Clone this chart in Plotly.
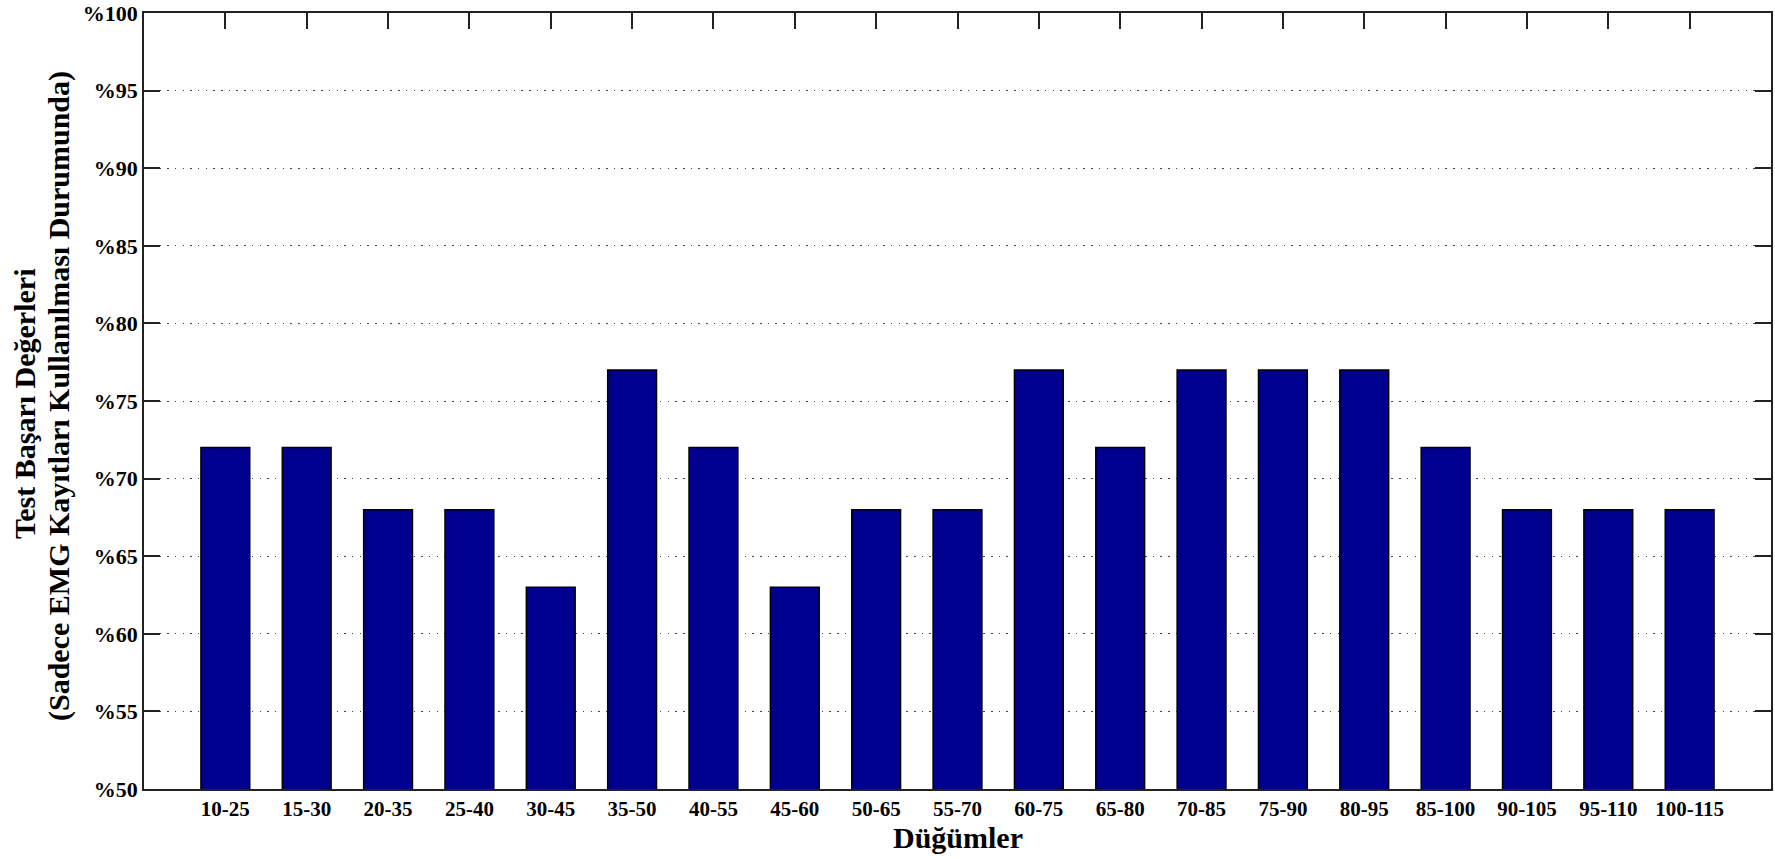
import plotly.graph_objects as go

# Node ranges on the x axis and the test success (%) for each
node_ranges = ["10-25", "15-30", "20-35", "25-40", "30-45", "35-50", "40-55",
               "45-60", "50-65", "55-70", "60-75", "65-80", "70-85", "75-90",
               "80-95", "85-100", "90-105", "95-110", "100-115"]
success = [72, 72, 68, 68, 63, 77, 72, 63, 68, 68, 77, 72, 77, 77, 77, 72, 68, 68, 68]

y_ticks = [50, 55, 60, 65, 70, 75, 80, 85, 90, 95, 100]
y_ticktext = ["%" + str(v) for v in y_ticks]

positions = list(range(1, len(node_ranges) + 1))

FONT = "Liberation Serif, Times New Roman, serif"

fig = go.Figure(
    go.Bar(
        x=positions,
        y=success,
        width=0.6,
        marker=dict(color="#00008F", line=dict(color="#000000", width=1.5)),
        hoverinfo="x+y",
    )
)

axis_common = dict(
    showline=True,
    linecolor="#222222",
    linewidth=1.5,
    mirror="ticks",
    ticks="inside",
    ticklen=16,
    tickwidth=1.5,
    tickcolor="#222222",
    zeroline=False,
    ticklabeloverflow="allow",
    automargin=False,
)

fig.update_layout(
    width=1775,
    height=859,
    margin=dict(l=144, r=4, t=13, b=70),
    paper_bgcolor="white",
    plot_bgcolor="white",
    showlegend=False,
    xaxis=dict(
        range=[0, 20],
        tickvals=positions,
        ticktext=node_ranges,
        showgrid=False,
        layer="below traces",
        tickfont=dict(family=FONT, size=21, color="#000000", weight="bold"),
        **axis_common,
    ),
    yaxis=dict(
        range=[50, 100],
        tickvals=y_ticks,
        ticktext=y_ticktext,
        showgrid=True,
        gridcolor="#444444",
        gridwidth=1,
        griddash="1.5px,6.2px",
        tickfont=dict(family=FONT, size=22, color="#000000", weight="bold"),
        **axis_common,
    ),
    annotations=[
        dict(
            text="Düğümler",
            xref="paper", yref="paper",
            x=0.5, y=0, yshift=-48,
            xanchor="center", yanchor="middle",
            showarrow=False,
            font=dict(family=FONT, size=30, color="#000000", weight="bold"),
        ),
        dict(
            text="Test Başarı Değerleri",
            xref="paper", yref="paper",
            x=0, xshift=-120, y=0.5, yshift=-3,
            xanchor="center", yanchor="middle",
            textangle=-90,
            showarrow=False,
            font=dict(family=FONT, size=30, color="#000000", weight="bold"),
        ),
        dict(
            text="(Sadece EMG Kayıtları Kullanılması Durumunda)",
            xref="paper", yref="paper",
            x=0, xshift=-85, y=0.5, yshift=5,
            xanchor="center", yanchor="middle",
            textangle=-90,
            showarrow=False,
            font=dict(family=FONT, size=30, color="#000000", weight="bold"),
        ),
    ],
)

fig.write_html("out.html")
